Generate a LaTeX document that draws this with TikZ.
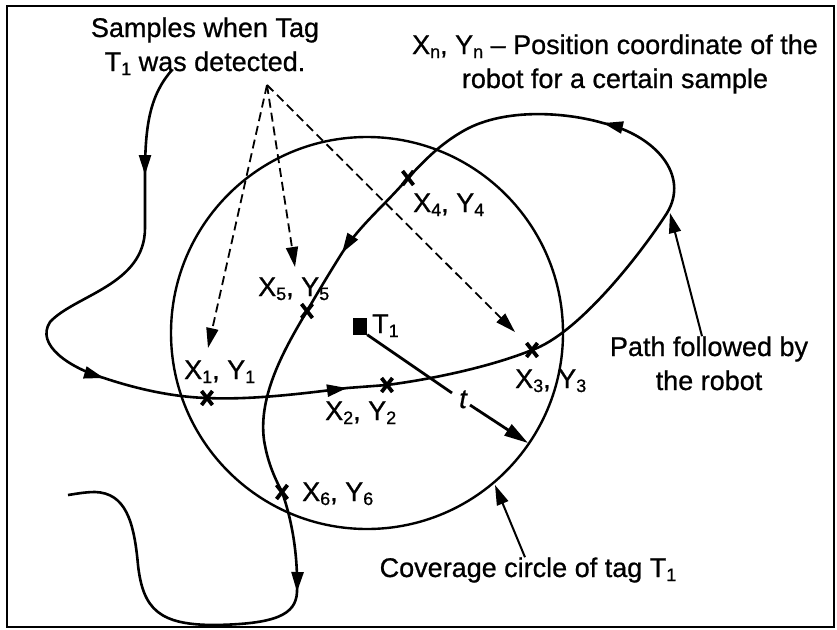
\documentclass[tikz,border=0pt]{standalone}
\usepackage{fontspec}
\setmainfont{Liberation Sans}[FakeBold=0.8]
\usetikzlibrary{arrows.meta}
\newcommand{\sbs}[1]{\raisebox{-4pt}{\fontsize{18}{18}\selectfont #1}}
\begin{document}
\begin{tikzpicture}[x=1pt,y=-1pt,
  lbl/.style={font=\fontsize{27}{34}\selectfont, inner sep=0pt, align=center},
  rpath/.style={line width=2.6pt},
  tipa/.style={-{Triangle[length=20pt,width=12pt]}},
  tipb/.style={-{Triangle[length=24pt,width=13pt]}},
  dsh/.style={line width=1.8pt, dash pattern=on 9pt off 5pt},
  xcross/.pic={\draw[line width=3.8pt] (-5.5,-7) -- (5.5,7) (-5.5,7) -- (5.5,-7);}]
\useasboundingbox (0,0) rectangle (837,629);
\draw[line width=1.6pt] (7,6) rectangle (834,627);

% coverage circle
\node[draw, circle, line width=2.4pt, minimum size=392pt, inner sep=0pt] (cov) at (367,333) {};

% samples
\coordinate (p1) at (207,398);
\coordinate (p2) at (387,385);
\coordinate (p3) at (532,350);
\coordinate (p4) at (408,178);
\coordinate (p5) at (307,311);
\coordinate (p6) at (282,492);
\foreach \p in {p1,p2,p3,p4,p5,p6} \pic at (\p) {xcross};

% path arrow tips
\coordinate (s0) at (172,70);
\coordinate (a1) at (145,175);
\coordinate (a2) at (104,378);
\coordinate (a3) at (347,388);
\coordinate (a4) at (603,123);
\coordinate (a5) at (342,253);
\coordinate (a6) at (297,592);
\coordinate (se) at (68,495);

% path followed by the robot
\draw[rpath] (s0) .. controls (150,95) and (145,125) .. (a1)
   -- (145,228) .. controls (145,285) and (75,295) .. (50,322)
   .. controls (35,345) and (70,368) .. (a2)
   .. controls (140,390) and (175,397) .. (p1)
   .. controls (250,400) and (300,394) .. (a3)
   -- (p2) .. controls (440,378) and (495,365) .. (p3)
   .. controls (578,334) and (640,255) .. (667,213)
   .. controls (690,175) and (655,135) .. (a4)
   .. controls (565,112) and (505,108) .. (465,130)
   .. controls (440,144) and (425,160) .. (p4)
   .. controls (385,205) and (360,225) .. (a5)
   .. controls (330,272) and (318,292) .. (p5)
   .. controls (285,348) and (258,395) .. (264,440)
   .. controls (268,465) and (276,480) .. (p6)
   .. controls (292,520) and (298,555) .. (a6)
   .. controls (296,615) and (275,624) .. (215,625)
   .. controls (160,625) and (143,610) .. (138,565)
   .. controls (134,520) and (125,493) .. (95,492)
   .. controls (85,492) and (75,494) .. (se);

% direction arrowheads on the path
\coordinate (a1b) at (145,160);
\coordinate (a2b) at (89.6,373.8);
\coordinate (a3b) at (332,390);
\coordinate (a4b) at (618,126.5);
\coordinate (a5b) at (350,240.5);
\coordinate (a6b) at (297.4,577);
\foreach \b/\t in {a1b/a1,a2b/a2,a3b/a3,a4b/a4,a5b/a5,a6b/a6}
  \draw[rpath,tipa] (\b) -- (\t);

% tag
\node[fill, minimum width=14pt, minimum height=17pt, inner sep=0pt] (tag) at (360,326) {};
\node[lbl, anchor=base west] (tl) at (372,333) {T\sbs1};
\coordinate (rend) at (452,393);
\coordinate (rstart) at (470,405);
\coordinate (rtip) at (528,443);
\draw[line width=2.8pt] (tag.south east) -- (rend);
\node[lbl, anchor=base, font=\fontsize{27}{34}\selectfont\itshape] (tt) at (463,408) {t};
\draw[line width=2.8pt, tipb] (rstart) -- (rtip);

% sample labels
\node[lbl, anchor=base west] (l1) at (184,379) {X\sbs1, Y\sbs1};
\node[lbl, anchor=base west] (l2) at (325,420) {X\sbs2, Y\sbs2};
\node[lbl, anchor=base west] (l3) at (515,388) {X\sbs3, Y\sbs3};
\node[lbl, anchor=base west] (l4) at (413,212) {X\sbs4, Y\sbs4};
\node[lbl, anchor=base west] (l5) at (258,296) {X\sbs5, Y\sbs5};
\node[lbl, anchor=base west] (l6) at (302,501) {X\sbs6, Y\sbs6};

% captions (base anchor = baseline of the last line)
\node[lbl, anchor=base] (samples) at (205,71) {Samples when Tag\\T\sbs1 was detected.};
\node[lbl, anchor=base] (xn) at (615,88) {X\sbs{n}, Y\sbs{n} -- Position coordinate of the\\robot for a certain sample};
\node[lbl, anchor=base] (pathlbl) at (709,390) {Path followed by\\the robot};
\node[lbl, anchor=base] (covlbl) at (528,577) {Coverage circle of tag T\sbs1};

% dashed pointers
\coordinate (apex) at (267,85);
\coordinate (d1) at (208,348);
\coordinate (d5) at (295,267);
\coordinate (d3) at (515,332);
\draw[dsh, tipa] (apex) -- (d1);
\draw[dsh, tipa] (apex) -- (d5);
\draw[dsh, tipa] (apex) -- (d3);

% label pointers
\coordinate (pt) at (670,213);
\coordinate (ct) at (495,485);
\draw[line width=2pt, tipa] ([xshift=-7pt]pathlbl.north) -- (pt);
\draw[line width=2pt, tipa] ([xshift=-3pt]covlbl.north) -- (ct);
\end{tikzpicture}
\end{document}
